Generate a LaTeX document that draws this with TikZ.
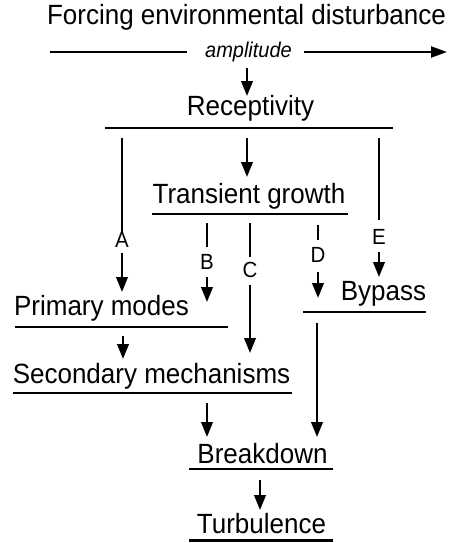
\documentclass[tikz,border=0pt]{standalone}
\usepackage{graphicx}
\usepackage{fontspec}
\setmainfont{Liberation Sans}
\usetikzlibrary{arrows.meta}
\newcommand{\vstr}[1]{\scalebox{1}[1.07]{#1}}
\tikzset{
  ln/.style={line width=2.4pt},
  arr/.style={line width=2.4pt,-{Triangle[length=15pt,width=11.5pt]}},
  harr/.style={line width=2.4pt,-{Triangle[length=16pt,width=11pt]}},
  lbl/.style={inner sep=0pt,anchor=base,font=\fontsize{26}{30}\selectfont},
  amp/.style={inner sep=0pt,anchor=base,font=\fontsize{20}{24}\selectfont\itshape},
  let/.style={inner sep=0pt,font=\fontsize{20.5}{24}\selectfont}
}
\begin{document}
\begin{tikzpicture}[x=1pt,y=-1pt]
\useasboundingbox (0,0) rectangle (448,543);
% text nodes
\node[lbl] (title) at (246.5,25) {\vstr{Forcing environmental disturbance}};
\node[amp] (ampl) at (248.5,57.5) {\vstr{amplitude}};
\node[lbl] (rec) at (250.5,115) {\vstr{Receptivity}};
\node[lbl] (tg) at (249,203) {\vstr{Transient growth}};
\node[lbl] (by) at (383.5,300) {\vstr{Bypass}};
\node[lbl] (pm) at (101.5,315) {\vstr{Primary modes}};
\node[lbl] (sm) at (151.5,383) {\vstr{Secondary mechanisms}};
\node[lbl] (bd) at (262.5,463) {\vstr{Breakdown}};
\node[lbl] (tu) at (261.5,533) {\vstr{Turbulence}};
\node[let] (A) at (122,240) {\vstr{A}};
\node[let] (B) at (207,262) {\vstr{B}};
\node[let] (C) at (250,270) {\vstr{C}};
\node[let] (D) at (318,255) {\vstr{D}};
\node[let] (E) at (379,236.5) {\vstr{E}};
% underlines
\coordinate (recL) at (105,128); \coordinate (recR) at (393,128);
\coordinate (tgL) at (152,214); \coordinate (tgR) at (348,214);
\coordinate (byL) at (303,312); \coordinate (byR) at (426,312);
\coordinate (pmL) at (15,327); \coordinate (pmR) at (228,327);
\coordinate (smL) at (13,393); \coordinate (smR) at (292,393);
\coordinate (bdL) at (189,469); \coordinate (bdR) at (333,469);
\coordinate (tuL) at (189,540.5); \coordinate (tuR) at (333,540.5);
\foreach \n in {rec,tg,by,pm,sm,bd,tu}{\draw[ln] (\n L) -- (\n R);}
% amplitude axis
\coordinate (h0) at (50,52); \coordinate (h1) at (187,52);
\coordinate (h2) at (304,52); \coordinate (h3) at (447,52);
\draw[ln] (h0) -- (h1);
\draw[harr] (h2) -- (h3);
% connector end points
\coordinate (a0) at (247,68); \coordinate (a1) at (247,96);
\coordinate (t0) at (247,138); \coordinate (t1) at (247,177);
\coordinate (A0) at (122,138); \coordinate (A1) at (122,232); \coordinate (A2) at (122,253); \coordinate (A3) at (122,292);
\coordinate (E0) at (379,138); \coordinate (E1) at (379,220); \coordinate (E2) at (379,252); \coordinate (E3) at (379,277);
\coordinate (B0) at (207,223); \coordinate (B1) at (207,247); \coordinate (B2) at (207,277); \coordinate (B3) at (207,302);
\coordinate (C0) at (250,223); \coordinate (C1) at (250,257); \coordinate (C2) at (250,285); \coordinate (C3) at (250,353);
\coordinate (D0) at (318,225); \coordinate (D1) at (318,240); \coordinate (D2) at (318,272); \coordinate (D3) at (318,298);
\coordinate (y0) at (317,323); \coordinate (y1) at (317,437);
\coordinate (p0) at (123,336); \coordinate (p1) at (123,359);
\coordinate (s0) at (207,403); \coordinate (s1) at (207,437);
\coordinate (k0) at (260,480); \coordinate (k1) at (260,510);
% connectors
\draw[arr] (a0) -- (a1);
\draw[arr] (t0) -- (t1);
\foreach \n in {A,B,C,D,E}{
  \draw[ln] (\n0) -- (\n1);
  \draw[arr] (\n2) -- (\n3);
}
\draw[arr] (y0) -- (y1);
\draw[arr] (p0) -- (p1);
\draw[arr] (s0) -- (s1);
\draw[arr] (k0) -- (k1);
\end{tikzpicture}
\end{document}
